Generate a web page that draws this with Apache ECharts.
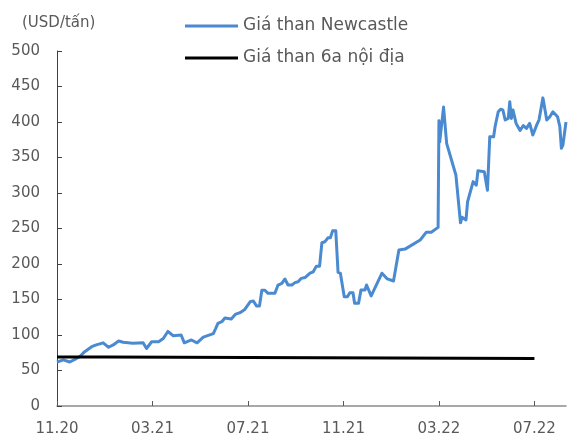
<!DOCTYPE html>
<html>
<head>
<meta charset="utf-8">
<script src="https://cdn.jsdelivr.net/npm/echarts@6/dist/echarts.min.js"></script>
<style>
  html, body { margin: 0; padding: 0; background: #fff; }
  #chart { width: 569px; height: 439px; }
</style>
</head>
<body>
<div id="chart"></div>
<script>
// Newcastle coal price, USD/tonne
const newcastleDates = [
  '2020-11-01','2020-11-03','2020-11-09','2020-11-17','2020-11-24','2020-11-30',
  '2020-12-06','2020-12-15','2020-12-21','2020-12-30',
  '2021-01-06','2021-01-12','2021-01-19','2021-01-25',
  '2021-02-06','2021-02-18','2021-02-22','2021-02-28',
  '2021-03-09','2021-03-15','2021-03-21','2021-03-28',
  '2021-04-07','2021-04-11','2021-04-20','2021-04-27',
  '2021-05-05','2021-05-18','2021-05-21','2021-05-24','2021-05-29',
  '2021-06-02','2021-06-10','2021-06-15','2021-06-21','2021-06-27',
  '2021-07-04','2021-07-08','2021-07-12','2021-07-16','2021-07-19','2021-07-23','2021-07-27',
  '2021-08-05','2021-08-09','2021-08-14','2021-08-18','2021-08-22','2021-08-27','2021-08-31',
  '2021-09-04','2021-09-08','2021-09-13','2021-09-19','2021-09-23','2021-09-27',
  '2021-10-01','2021-10-04','2021-10-08','2021-10-12','2021-10-15','2021-10-18','2021-10-22','2021-10-25','2021-10-28',
  '2021-11-02','2021-11-06','2021-11-09','2021-11-13','2021-11-15','2021-11-20','2021-11-23','2021-11-28','2021-11-30',
  '2021-12-06','2021-12-20','2021-12-27',
  '2022-01-04','2022-01-11','2022-01-19',
  '2022-02-07','2022-02-14','2022-02-20','2022-02-28',
  '2022-03-01','2022-03-02','2022-03-07','2022-03-11','2022-03-23','2022-03-29','2022-03-31',
  '2022-04-05','2022-04-07','2022-04-14','2022-04-18','2022-04-20','2022-04-28',
  '2022-05-02','2022-05-05','2022-05-10','2022-05-12','2022-05-16','2022-05-19','2022-05-22','2022-05-25','2022-05-29','2022-05-31',
  '2022-06-02','2022-06-04','2022-06-06','2022-06-08','2022-06-13','2022-06-17','2022-06-21','2022-06-25','2022-06-29',
  '2022-07-04','2022-07-07','2022-07-12','2022-07-17','2022-07-21','2022-07-25','2022-07-31',
  '2022-08-03','2022-08-05','2022-08-07','2022-08-11'
];
const newcastlePrices = [
  62, 63, 65, 62, 66, 70,
  76.5, 83.5, 86, 89,
  82.7, 86, 91.5, 89.7,
  88.5, 89, 81, 90.5,
  90.5, 95, 105, 99,
  100, 89, 93, 89,
  97, 102, 109, 116.5, 118.7,
  124, 122.5, 129, 131.4, 136,
  147, 148, 141, 141, 163, 163, 158.7,
  158.7, 170.4, 172.8, 178.9, 170.4, 170.4, 173.7,
  175, 179.8, 181, 187, 189, 197,
  197, 230, 231.4, 237, 237, 247, 247, 188.3, 187,
  154, 154, 159.6, 159.6, 144.6, 144.6, 163.4, 163.4, 170.4,
  155, 187, 179,
  176, 219.7, 221,
  233.8, 244.6, 244.6, 251.6,
  401.8, 372, 421, 370, 325.4, 258, 265.8,
  262, 287.7, 316, 311, 331.4, 330,
  304, 379.3, 379.3, 394, 414.5, 418, 417, 402.8, 405, 428.6,
  405, 417, 416, 398, 388, 395, 391, 398, 381.7,
  396, 403, 434, 402.8, 407.5, 414.5, 407.5,
  393.4, 363, 367.6, 400
];

// Domestic 6a coal price, USD/tonne (step changes)
const domesticDates = ['2020-11-01', '2021-01-01', '2021-10-01', '2022-07-01'];
const domesticPrices = [69, 68, 67, 67];

const seriesNames = ['Giá than Newcastle', 'Giá than 6a nội địa'];
const tickLabels = ['11.20', '03.21', '07.21', '11.21', '03.22', '07.22'];
const axisStart = '2020-11-01';
const axisEnd = '2022-08-11';
const unitLabel = '(USD/tấn)';

// Fractional month count since November 2020
function monthIndex(s) {
  const [y, m, d] = s.split('-').map(Number);
  const dim = new Date(Date.UTC(y, m, 0)).getUTCDate();
  return (y - 2020) * 12 + (m - 11) + (d - 1) / dim;
}

const x0 = monthIndex(axisStart);
const tickValues = tickLabels.map((_, i) => x0 + i * 4);
const newcastleData = newcastleDates.map((d, i) => [monthIndex(d), newcastlePrices[i]]);
const domesticData = domesticDates.map((d, i) => [monthIndex(d), domesticPrices[i]]);

const textColor = '#595959';
const fontFamily = 'DejaVu Sans';

const chart = echarts.init(document.getElementById('chart'), null, { renderer: 'canvas' });
chart.setOption({
  animation: false,
  backgroundColor: '#ffffff',
  title: {
    text: unitLabel,
    left: 17,
    top: 11,
    textStyle: { fontFamily, fontSize: 15, fontWeight: 'normal', color: textColor }
  },
  legend: {
    orient: 'vertical',
    left: 180,
    top: 11,
    icon: 'rect',
    itemWidth: 53,
    itemHeight: 3,
    itemGap: 12,
    textStyle: { fontFamily, fontSize: 17, lineHeight: 20, color: textColor },
    data: seriesNames
  },
  grid: { left: 57, right: 3, top: 51, bottom: 33, containLabel: false },
  xAxis: {
    type: 'value',
    min: x0,
    max: monthIndex(axisEnd),
    interval: 4,
    axisLine: { show: true, lineStyle: { color: '#8c8c8c', width: 1.5 } },
    axisTick: { show: true, inside: true, length: 5, lineStyle: { color: '#595959' }, customValues: tickValues },
    axisLabel: {
      customValues: tickValues,
      formatter: v => tickLabels[Math.round((v - x0) / 4)] || '',
      fontFamily, fontSize: 15, color: textColor, margin: 16
    },
    splitLine: { show: false }
  },
  yAxis: {
    type: 'value',
    min: 0,
    max: 500,
    interval: 50,
    axisLine: { show: true, lineStyle: { color: '#404040', width: 1 } },
    axisTick: { show: true, inside: true, length: 5, lineStyle: { color: '#404040' } },
    axisLabel: { fontFamily, fontSize: 15, color: textColor, margin: 17 },
    splitLine: { show: false }
  },
  series: [
    {
      name: seriesNames[0],
      type: 'line',
      data: newcastleData,
      symbol: 'none',
      lineStyle: { color: '#4a8ad0', width: 3, join: 'round' },
      itemStyle: { color: '#4a8ad0' },
      z: 3
    },
    {
      name: seriesNames[1],
      type: 'line',
      data: domesticData,
      step: 'end',
      symbol: 'none',
      lineStyle: { color: '#000000', width: 3 },
      itemStyle: { color: '#000000' },
      z: 4
    }
  ]
});
</script>
</body>
</html>
